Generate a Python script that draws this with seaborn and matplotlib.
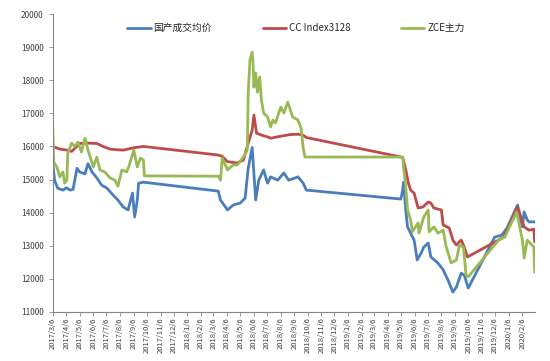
import pandas as pd
import matplotlib.pyplot as plt
import seaborn as sns

# 国产成交均价
blue_dates = ['2017-03-06', '2017-03-10', '2017-03-17', '2017-03-29', '2017-04-06', '2017-04-14',
              '2017-04-21', '2017-04-30', '2017-05-06', '2017-05-18', '2017-05-25', '2017-06-03',
              '2017-06-14', '2017-06-25', '2017-07-07', '2017-07-21', '2017-08-01', '2017-08-13',
              '2017-08-24', '2017-09-03', '2017-09-08', '2017-09-14', '2017-09-17', '2017-09-28',
              '2018-03-17', '2018-03-22', '2018-04-07', '2018-04-20', '2018-05-06', '2018-05-17',
              '2018-05-24', '2018-06-02', '2018-06-10', '2018-06-17', '2018-06-28', '2018-07-07',
              '2018-07-14', '2018-07-30', '2018-08-13', '2018-08-24', '2018-09-14', '2018-09-26',
              '2018-10-03', '2019-05-06', '2019-05-10', '2019-05-12', '2019-05-17', '2019-05-21',
              '2019-05-28', '2019-06-05', '2019-06-12', '2019-06-21', '2019-06-27', '2019-07-07',
              '2019-07-13', '2019-07-29', '2019-08-10', '2019-08-21', '2019-09-01', '2019-09-09',
              '2019-09-20', '2019-09-27', '2019-10-06', '2019-12-05', '2019-12-21', '2020-01-02',
              '2020-01-26', '2020-02-06', '2020-02-10', '2020-02-17', '2020-02-21', '2020-03-05']
blue_vals = [15500, 14980, 14740, 14680, 14750, 14680,
             14700, 15340, 15230, 15170, 15480, 15230,
             15050, 14830, 14740, 14530, 14380, 14170,
             14080, 14590, 13870, 14380, 14890, 14920,
             14650, 14380, 14080, 14230, 14290, 14440,
             15340, 15970, 14380, 14980, 15290, 14890,
             15080, 14980, 15200, 14980, 15080, 14890,
             14680, 14410, 14680, 14920, 14080, 13570,
             13380, 13170, 12570, 12780, 12960, 13080,
             12660, 12480, 12270, 11960, 11600, 11750,
             12170, 12110, 11720, 13260, 13320, 13530,
             14230, 13570, 14020, 13780, 13720, 13720]

# CC Index3128
red_dates = ['2017-03-06', '2017-03-22', '2017-04-07', '2017-04-18', '2017-05-06', '2017-05-25',
             '2017-06-14', '2017-06-28', '2017-07-14', '2017-07-30', '2017-08-13', '2017-09-06',
             '2017-09-28', '2018-03-17', '2018-03-26', '2018-04-07', '2018-04-29', '2018-05-13',
             '2018-05-24', '2018-06-02', '2018-06-06', '2018-06-12', '2018-06-26', '2018-07-07',
             '2018-07-14', '2018-08-06', '2018-08-28', '2018-09-14', '2018-09-26', '2018-10-03',
             '2019-05-10', '2019-05-17', '2019-05-23', '2019-05-28', '2019-06-05', '2019-06-14',
             '2019-06-25', '2019-07-07', '2019-07-13', '2019-07-20', '2019-08-06', '2019-08-10',
             '2019-08-24', '2019-09-01', '2019-09-09', '2019-09-20', '2019-09-27', '2019-10-04',
             '2019-12-26', '2020-01-26', '2020-02-10', '2020-02-21', '2020-03-03', '2020-03-05']
red_vals = [16000, 15920, 15890, 15850, 16090, 16100,
            16090, 16000, 15920, 15900, 15890, 15960,
            16000, 15740, 15700, 15540, 15500, 15590,
            16100, 16490, 16950, 16400, 16330, 16290,
            16250, 16310, 16360, 16370, 16340, 16270,
            15670, 15290, 14890, 14680, 14590, 14140,
            14170, 14320, 14290, 14140, 14080, 13630,
            13530, 13170, 13020, 13170, 12960, 12660,
            13260, 14170, 13570, 13470, 13500, 13110]

# ZCE主力
green_dates = ['2017-03-06', '2017-03-08', '2017-03-15', '2017-03-22', '2017-03-29', '2017-04-02',
               '2017-04-07', '2017-04-09', '2017-04-18', '2017-04-25', '2017-05-02', '2017-05-10',
               '2017-05-18', '2017-05-25', '2017-06-06', '2017-06-14', '2017-06-21', '2017-07-02',
               '2017-07-14', '2017-07-25', '2017-08-01', '2017-08-10', '2017-08-21', '2017-08-27',
               '2017-09-06', '2017-09-14', '2017-09-21', '2017-09-28', '2017-09-30', '2018-03-17',
               '2018-03-22', '2018-03-26', '2018-04-07', '2018-04-20', '2018-04-29', '2018-05-13',
               '2018-05-22', '2018-05-24', '2018-05-28', '2018-06-02', '2018-06-04', '2018-06-06',
               '2018-06-10', '2018-06-14', '2018-06-19', '2018-06-23', '2018-06-28', '2018-07-07',
               '2018-07-14', '2018-07-19', '2018-07-25', '2018-08-06', '2018-08-13', '2018-08-22',
               '2018-09-02', '2018-09-14', '2018-09-21', '2018-09-26', '2018-09-30', '2019-05-10',
               '2019-05-12', '2019-05-17', '2019-05-21', '2019-05-28', '2019-06-01', '2019-06-14',
               '2019-06-16', '2019-06-27', '2019-07-07', '2019-07-09', '2019-07-20', '2019-07-29',
               '2019-08-10', '2019-08-17', '2019-08-28', '2019-09-09', '2019-09-16', '2019-09-25',
               '2019-10-01', '2019-10-06', '2019-12-14', '2019-12-28', '2020-01-24', '2020-02-06',
               '2020-02-10', '2020-02-17', '2020-03-03', '2020-03-05']
green_vals = [16500, 15530, 15380, 15080, 15230, 14890,
              14980, 15800, 16100, 16000, 16130, 15830,
              16250, 15890, 15380, 15680, 15290, 15230,
              15050, 14980, 14800, 15290, 15230, 15440,
              15890, 15380, 15650, 15590, 15110, 15100,
              14980, 15650, 15290, 15440, 15440, 15680,
              15890, 17610, 18610, 18850, 18520, 17790,
              18220, 17640, 18100, 17400, 17010, 16890,
              16590, 16800, 16710, 17190, 17010, 17340,
              16890, 16800, 16560, 15950, 15680, 15680,
              15380, 14780, 14080, 13780, 13420, 13690,
              13380, 13870, 14080, 13420, 13570, 13380,
              13470, 12960, 12480, 12570, 13020, 12960,
              12110, 12060, 13170, 13260, 14020, 13170,
              12630, 13170, 12960, 12200]

series_names = ['国产成交均价', 'CC Index3128', 'ZCE主力']
colors = ['#4A7EBB', '#BE4B48', '#98B954']

frames = []
for name, d, v in zip(series_names, [blue_dates, red_dates, green_dates], [blue_vals, red_vals, green_vals]):
    frames.append(pd.DataFrame({'date': pd.to_datetime(d), 'price': v, 'series': name}))
df = pd.concat(frames, ignore_index=True)

sns.set_style('white')
plt.rcParams['font.family'] = ['Noto Sans CJK SC', 'DejaVu Sans']

fig = plt.figure(figsize=(5.5, 3.61), dpi=100)
ax = fig.add_axes([0.096, 0.136, 0.877, 0.825])

sns.lineplot(data=df, x='date', y='price', hue='series', hue_order=series_names,
             palette=colors, estimator=None, sort=False, linewidth=2, ax=ax)

ticks = pd.date_range('2017-03-06', '2020-02-06', freq=pd.DateOffset(months=1))
ax.set_xticks(ticks)
ax.set_xticklabels([f'{t.year}/{t.month}/{t.day}' for t in ticks], rotation=90, fontsize=5.5, color='#404040')
ax.set_xlim(pd.Timestamp('2017-03-06'), pd.Timestamp('2020-03-06'))
ax.set_ylim(11000, 20000)
ax.set_yticks(range(11000, 20001, 1000))
ax.tick_params(axis='y', labelsize=6, colors='#404040', length=3, width=0.6, direction='out', left=True)
ax.tick_params(axis='x', length=3, width=0.6, direction='out', bottom=True, pad=1)
for lab in ax.get_yticklabels():
    lab.set_color('#404040')
ax.tick_params(axis='both', color='#868686')
ax.set_xlabel('')
ax.set_ylabel('')
for s in ['top', 'right']:
    ax.spines[s].set_visible(False)
for s in ['left', 'bottom']:
    ax.spines[s].set_color('#868686')
    ax.spines[s].set_linewidth(0.8)

handles, labels = ax.get_legend_handles_labels()
ax.legend(handles, labels, loc='center', bbox_to_anchor=(0.538, 0.922), bbox_transform=fig.transFigure,
          ncol=3, frameon=False, fontsize=7, handlelength=2.4, columnspacing=5.2, handletextpad=0.3)

fig.savefig('out.png', dpi=100)
